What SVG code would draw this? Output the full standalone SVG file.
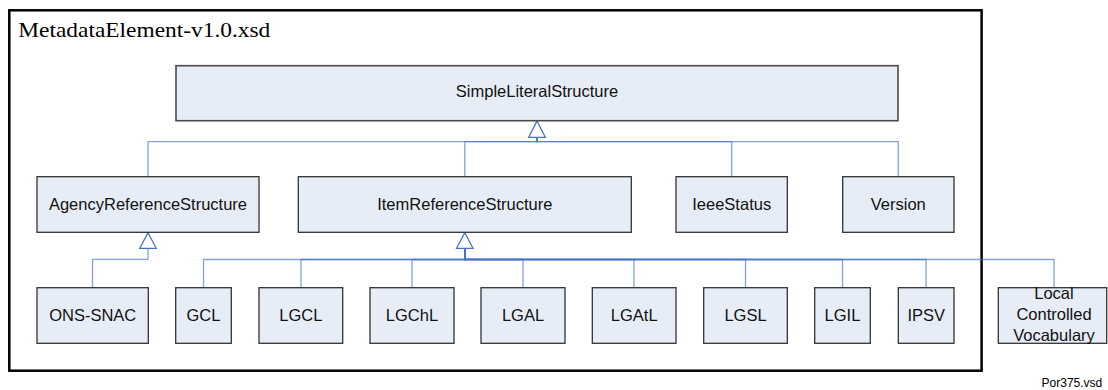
<svg xmlns="http://www.w3.org/2000/svg" width="1108" height="390" viewBox="0 0 1108 390">
<style>
  .box { fill: #E7EDF7; stroke: #333333; stroke-width: 1.3; }
  .lbl { font-family: "Liberation Sans", Arial, sans-serif; font-size: 16.5px; fill: #111111; text-anchor: middle; }
  .con { fill: none; stroke: #4472C4; stroke-opacity: 0.65; stroke-width: 1.3; }
  .tri { fill: #FFFFFF; stroke: #4472C4; stroke-width: 1.3; }
</style>
<rect x="0" y="0" width="1108" height="390" fill="#FFFFFF"/>
<g id="frame">
  <rect x="9.3" y="10.3" width="972.3" height="360.4" fill="none" stroke="#000000" stroke-width="2.5"/>
  <text x="18.3" y="37.3" font-family="'Liberation Serif', 'Times New Roman', serif" font-size="21" fill="#000000" textLength="252" lengthAdjust="spacingAndGlyphs">MetadataElement-v1.0.xsd</text>
</g>
<g id="connectors">
  <path class="con" d="M148,176.7 V141.7 H537 V137.3"/>
  <path class="con" d="M464.8,176.7 V141.7 H537 V137.3"/>
  <path class="con" d="M731.7,176.7 V141.7 H537 V137.3"/>
  <path class="con" d="M898.3,176.7 V141.7 H537 V137.3"/>
  <polygon class="tri" points="537,121 545.3,137.3 528.7,137.3"/>
  <path class="con" d="M92.5,287.7 V259.3 H148 V248.3"/>
  <polygon class="tri" points="148,232.7 156.2,248.3 139.8,248.3"/>
  <path class="con" d="M203.5,287.7 V259.5 H464.8 V248.3"/>
  <path class="con" d="M301,287.7 V259.5 H464.8 V248.3"/>
  <path class="con" d="M412,287.7 V259.5 H464.8 V248.3"/>
  <path class="con" d="M523,287.7 V259.5 H464.8 V248.3"/>
  <path class="con" d="M634,287.7 V259.5 H464.8 V248.3"/>
  <path class="con" d="M745.5,287.7 V259.5 H464.8 V248.3"/>
  <path class="con" d="M842.5,287.7 V259.5 H464.8 V248.3"/>
  <path class="con" d="M926,287.7 V259.5 H464.8 V248.3"/>
  <path class="con" d="M1054,287.7 V259.5 H464.8 V248.3"/>
  <polygon class="tri" points="464.8,232.7 473,248.3 456.6,248.3"/>
</g>
<g id="SimpleLiteralStructure">
  <rect class="box" x="176" y="65.7" width="722" height="55" style="stroke:#4a4a4a;stroke-width:1.6"/>
  <text class="lbl" x="537" y="97">SimpleLiteralStructure</text>
</g>
<g id="AgencyReferenceStructure">
  <rect class="box" x="37" y="176.7" width="222" height="55.6"/>
  <text class="lbl" x="148" y="210">AgencyReferenceStructure</text>
</g>
<g id="ItemReferenceStructure">
  <rect class="box" x="298.3" y="176.7" width="333" height="55.6"/>
  <text class="lbl" x="464.8" y="210">ItemReferenceStructure</text>
</g>
<g id="IeeeStatus">
  <rect class="box" x="676" y="176.7" width="111.3" height="55.6"/>
  <text class="lbl" x="731.7" y="210">IeeeStatus</text>
</g>
<g id="Version">
  <rect class="box" x="842.7" y="176.7" width="111.3" height="55.6"/>
  <text class="lbl" x="898.3" y="210">Version</text>
</g>
<g id="ONS-SNAC">
  <rect class="box" x="37" y="287.7" width="111.3" height="55.6"/>
  <text class="lbl" x="92.7" y="321">ONS-SNAC</text>
</g>
<g id="GCL">
  <rect class="box" x="175.7" y="287.7" width="55.6" height="55.6"/>
  <text class="lbl" x="203.5" y="321">GCL</text>
</g>
<g id="LGCL">
  <rect class="box" x="259" y="287.7" width="83.7" height="55.6"/>
  <text class="lbl" x="300.9" y="321">LGCL</text>
</g>
<g id="LGChL">
  <rect class="box" x="370" y="287.7" width="84" height="55.6"/>
  <text class="lbl" x="412" y="321">LGChL</text>
</g>
<g id="LGAL">
  <rect class="box" x="481" y="287.7" width="84" height="55.6"/>
  <text class="lbl" x="523" y="321">LGAL</text>
</g>
<g id="LGAtL">
  <rect class="box" x="592.3" y="287.7" width="83.7" height="55.6"/>
  <text class="lbl" x="634.2" y="321">LGAtL</text>
</g>
<g id="LGSL">
  <rect class="box" x="703.7" y="287.7" width="83.6" height="55.6"/>
  <text class="lbl" x="745.5" y="321">LGSL</text>
</g>
<g id="LGIL">
  <rect class="box" x="814.7" y="287.7" width="55.6" height="55.6"/>
  <text class="lbl" x="842.5" y="321">LGIL</text>
</g>
<g id="IPSV">
  <rect class="box" x="898.3" y="287.7" width="55.7" height="55.6"/>
  <text class="lbl" x="926.2" y="321">IPSV</text>
</g>
<g id="LocalControlledVocabulary">
  <rect class="box" x="998.3" y="287.7" width="108.4" height="55.6"/>
  <text class="lbl" x="1054" y="299">Local</text>
  <text class="lbl" x="1054" y="320">Controlled</text>
  <text class="lbl" x="1054" y="340.5">Vocabulary</text>
</g>
<text x="1102.3" y="386.7" font-family="'Liberation Sans', Arial, sans-serif" font-size="12" fill="#000000" text-anchor="end">Por375.vsd</text>
</svg>
